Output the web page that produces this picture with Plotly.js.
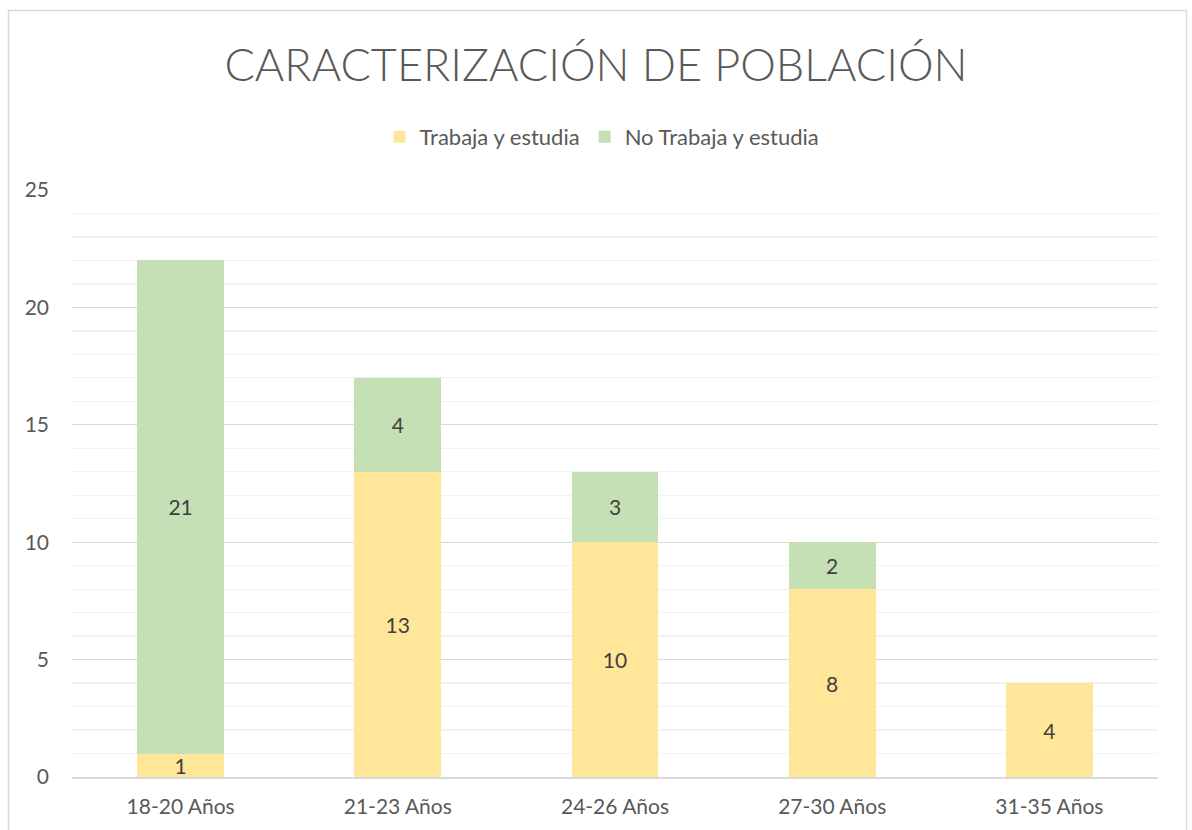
<!DOCTYPE html>
<html>
<head>
<meta charset="utf-8">
<script src="https://cdn.plot.ly/plotly-3.0.1.min.js"></script>
<style>
html,body{margin:0;padding:0;background:#fff;}
#chart{width:1192px;height:830px;}
</style>
</head>
<body>
<div id="chart"></div>
<script>
var categories = ["18-20 Años", "21-23 Años", "24-26 Años", "27-30 Años", "31-35 Años"];
var trabajaEstudia = [1, 13, 10, 8, 4];
var noTrabajaEstudia = [21, 4, 3, 2, null];
var seriesNames = ["Trabaja y estudia", "No Trabaja y estudia"];
var chartTitle = "CARACTERIZACIÓN DE POBLACIÓN";

var FONT = "Lato, 'Open Sans', sans-serif";
var TXT = "#595959";

var traces = [
  {
    type: "bar", name: seriesNames[0], x: categories, y: trabajaEstudia,
    marker: {color: "#FFE699"},
    text: trabajaEstudia.map(function(v){return v == null ? "" : String(v);}),
    textposition: "inside", insidetextanchor: "middle", constraintext: "none",
    textangle: 0, textfont: {family: FONT, size: 21, color: "#404040"},
    hoverinfo: "x+y+name"
  },
  {
    type: "bar", name: seriesNames[1], x: categories, y: noTrabajaEstudia,
    marker: {color: "#C5E0B4"},
    text: noTrabajaEstudia.map(function(v){return v == null ? "" : String(v);}),
    textposition: "inside", insidetextanchor: "middle", constraintext: "none",
    textangle: 0, textfont: {family: FONT, size: 21, color: "#404040"},
    hoverinfo: "x+y+name"
  }
];

var layout = {
  width: 1192, height: 830,
  margin: {l: 72, r: 34, t: 190, b: 53},
  paper_bgcolor: "#ffffff", plot_bgcolor: "#ffffff",
  barmode: "stack", bargap: 0.6,
  font: {family: FONT, color: TXT, size: 21},
  title: {
    text: chartTitle, x: 0.5, xanchor: "center", xref: "container",
    y: 1 - 65/830, yanchor: "middle", yref: "container",
    font: {family: FONT, size: 45, color: TXT, weight: 300}
  },
  showlegend: true,
  legend: {
    orientation: "h", x: (602-72)/1086, xanchor: "center",
    y: (777-137)/587, yanchor: "middle",
    font: {family: FONT, size: 22, color: TXT}, traceorder: "normal",
    itemwidth: 30, tracegroupgap: 0
  },
  xaxis: {
    type: "category", showgrid: false, zeroline: false,
    showline: true, linecolor: "#d9d9d9", linewidth: 1.5,
    ticks: "", ticklabelstandoff: 10,
    tickfont: {family: FONT, size: 21, color: TXT}
  },
  yaxis: {
    range: [0, 25], dtick: 5, tick0: 0, showline: false, zeroline: false,
    showgrid: true, gridcolor: "#d9d9d9", gridwidth: 1.3,
    minor: {dtick: 1, showgrid: true, gridcolor: "#f2f2f2", gridwidth: 1.3},
    ticks: "", ticklabelstandoff: 22,
    tickfont: {family: FONT, size: 21, color: TXT}
  },
  shapes: [{
    type: "rect", xref: "paper", yref: "paper",
    x0: (8.5-72)/1086, x1: (1186.5-72)/1086,
    y0: (777-850)/587, y1: (777-10.5)/587,
    line: {color: "#d9d9d9", width: 1.5}, fillcolor: "rgba(0,0,0,0)", layer: "below"
  }]
};

Plotly.newPlot("chart", traces, layout, {displayModeBar: false, staticPlot: true});
</script>
</body>
</html>
